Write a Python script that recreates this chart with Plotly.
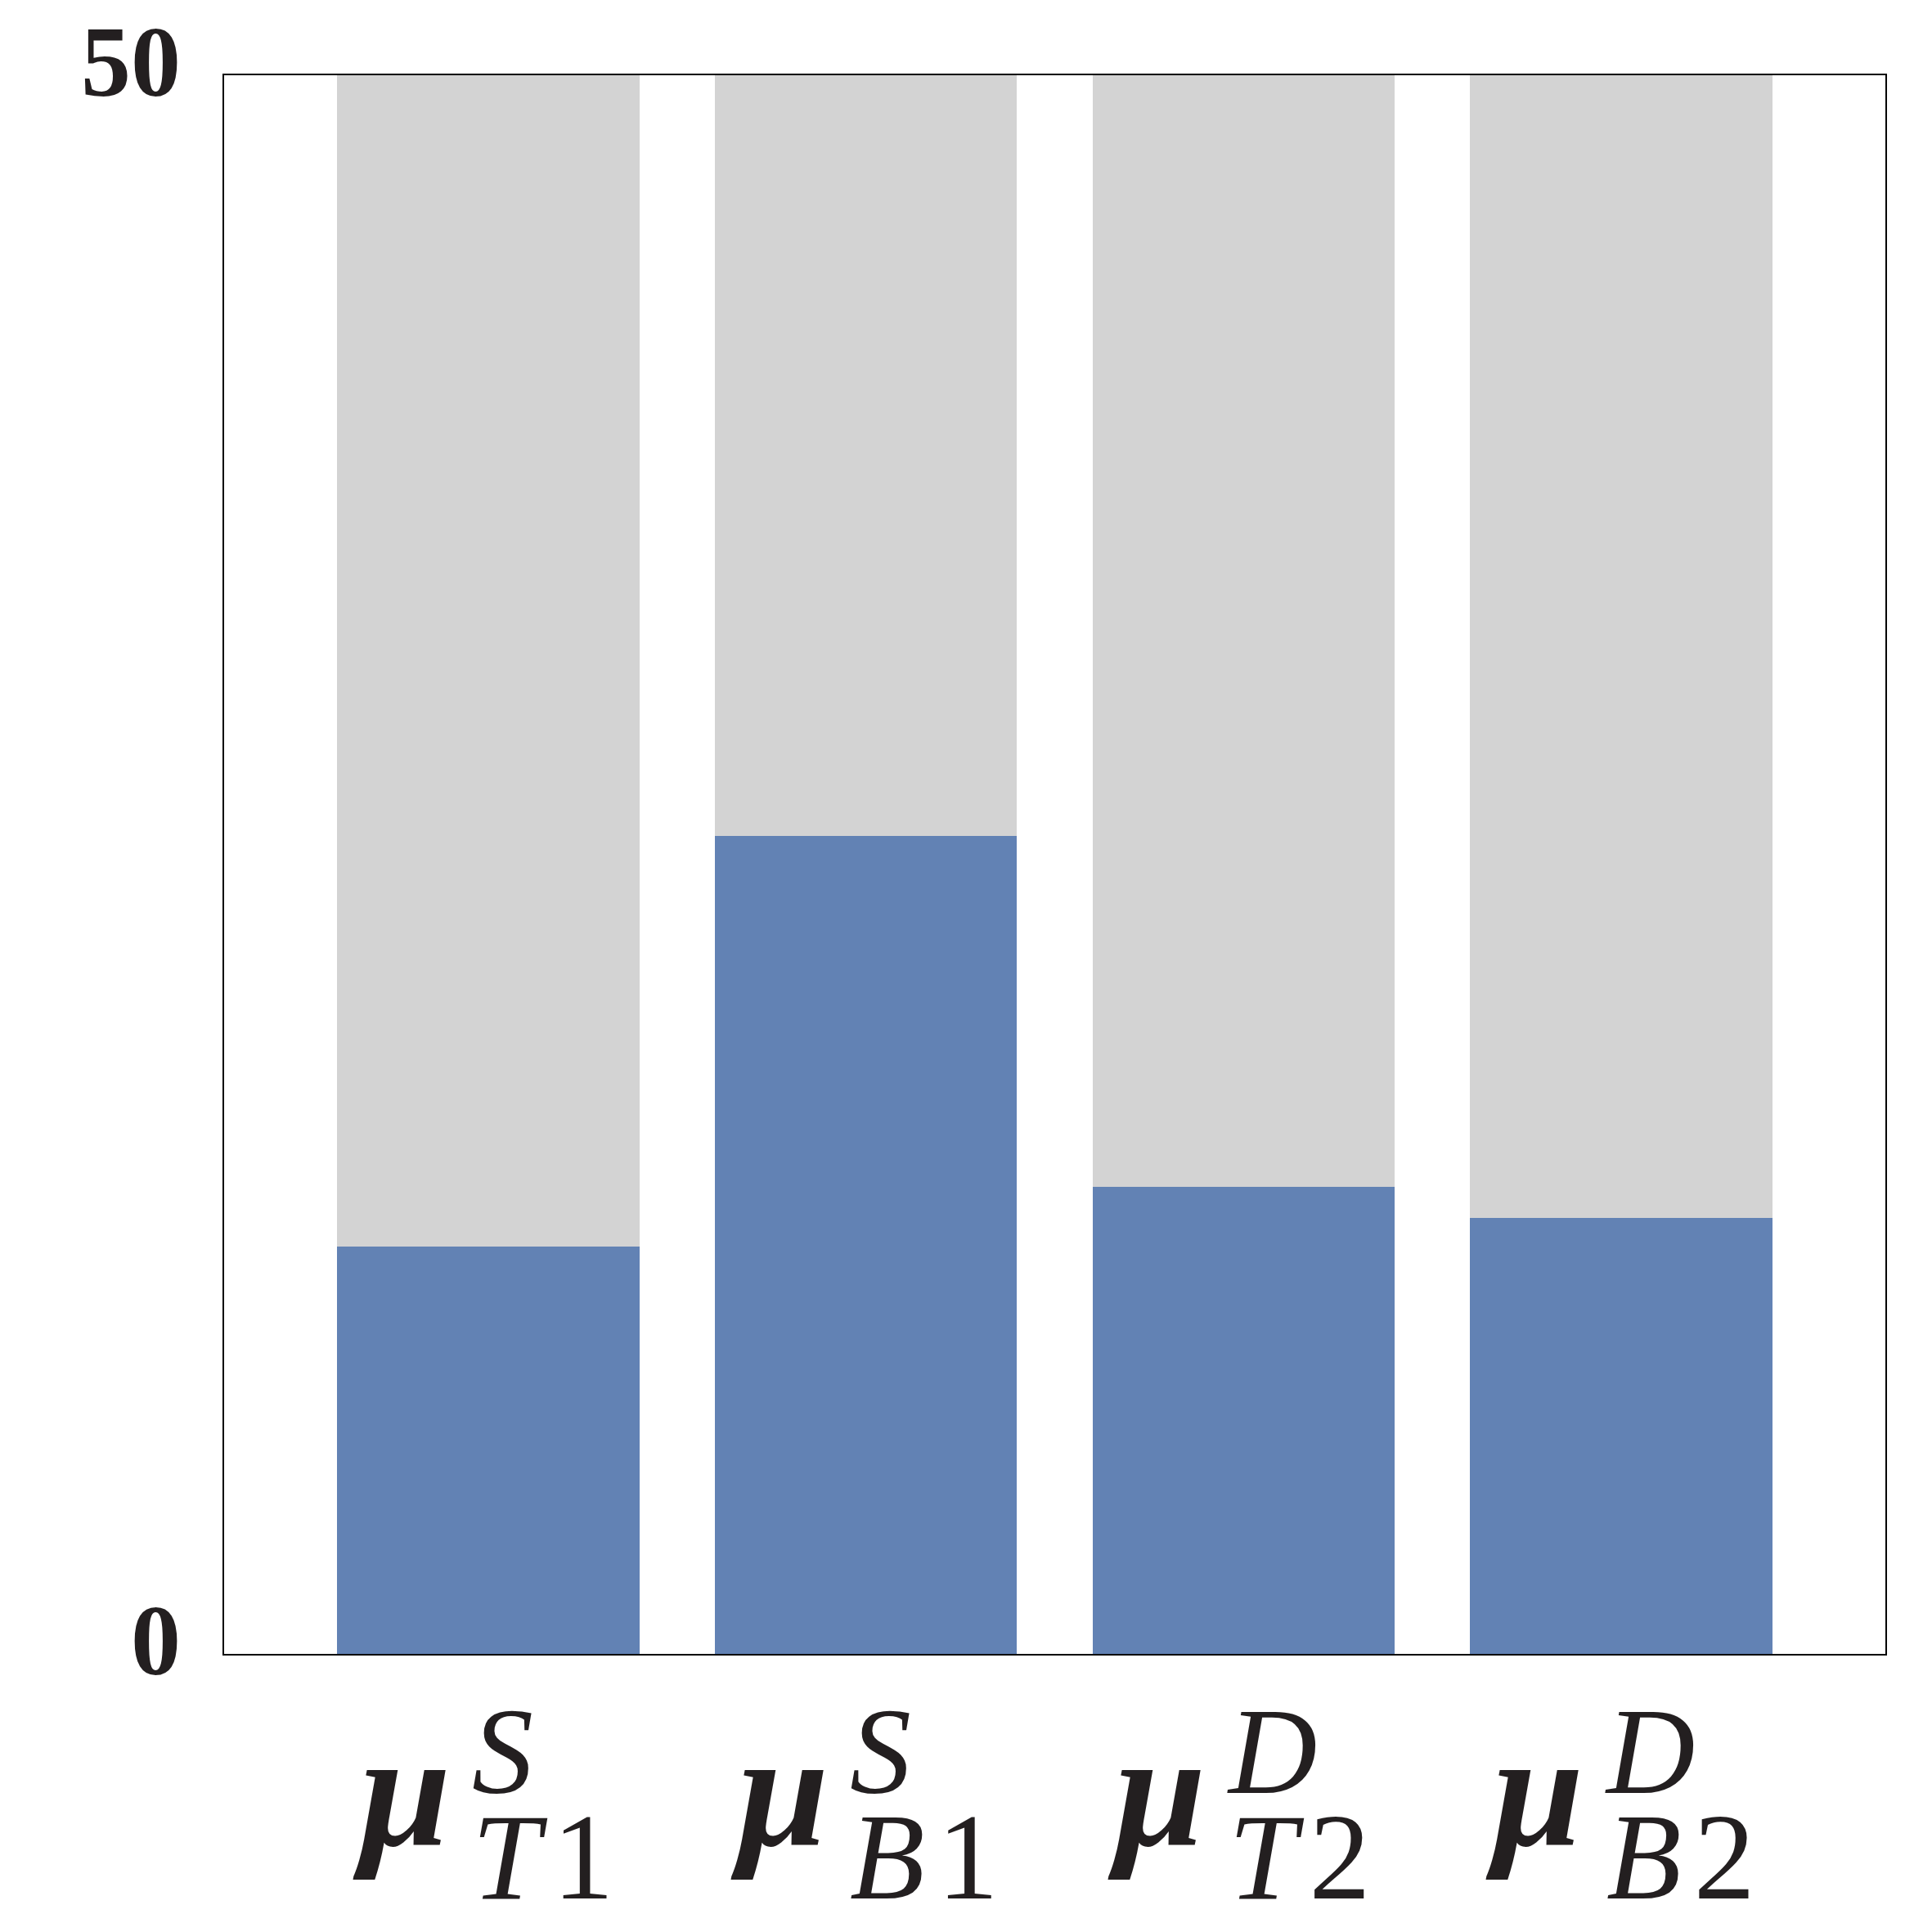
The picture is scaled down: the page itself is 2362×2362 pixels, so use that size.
import plotly.graph_objects as go

categories = [0, 1, 2, 3]
values = [12.9, 25.9, 14.8, 13.8]
totals = [50, 50, 50, 50]
sup_labels = ["S", "S", "D", "D"]
sub_letters = ["T", "B", "T", "B"]
sub_digits = ["1", "1", "2", "2"]
ytick_vals = [0, 50]
ytick_text = ["0", "50"]

remainder = [t - v for t, v in zip(totals, values)]
SERIF = "Liberation Serif"
INK = "#231f20"

fig = go.Figure()
fig.add_trace(go.Bar(x=categories, y=values, marker=dict(color="#6282b4", line=dict(width=0)), width=0.8))
fig.add_trace(go.Bar(x=categories, y=remainder, marker=dict(color="#d3d3d3", line=dict(width=0)), width=0.8))

ann = []
for i in range(len(categories)):
    ann.append(dict(x=i, y=0, xref="x", yref="paper", text="<i>μ</i>", showarrow=False,
                    xanchor="center", yanchor="middle", xshift=-106, yshift=-166,
                    font=dict(family=SERIF, size=200, color=INK, weight="bold")))
    txt = ("<span style='font-size:150px'><i>" + sup_labels[i] + "</i></span><br>"
           "<span style='font-size:150px'><i>" + sub_letters[i] + "</i></span>"
           "<span style='font-size:60px'> </span>"
           "<span style='font-size:150px'>" + sub_digits[i] + "</span>")
    ann.append(dict(x=i, y=0, xref="x", yref="paper", text=txt, showarrow=False, align="left",
                    xanchor="left", yanchor="middle", xshift=-22, yshift=-183,
                    font=dict(family=SERIF, size=99, color=INK)))

for v, t in zip(ytick_vals, ytick_text):
    ann.append(dict(x=0, y=v, xref="paper", yref="y", text="<b>" + t + "</b>", showarrow=False,
                    xanchor="right", yanchor="middle", xshift=-51, yshift=17,
                    font=dict(family=SERIF, size=122, color=INK)))

fig.update_layout(
    width=2362, height=2362,
    barmode="stack",
    showlegend=False,
    plot_bgcolor="white", paper_bgcolor="white",
    margin=dict(l=266, r=65, t=84, b=348),
    annotations=ann,
    xaxis=dict(range=[-0.7, 3.7], showticklabels=False, showgrid=False, zeroline=False,
               showline=True, linecolor="black", linewidth=2, mirror=True, ticks=""),
    yaxis=dict(range=[0, 50], tickvals=ytick_vals, showticklabels=False, showgrid=False, zeroline=False,
               showline=True, linecolor="black", linewidth=2, mirror=True, ticks=""),
)

fig.write_html("out.html")
